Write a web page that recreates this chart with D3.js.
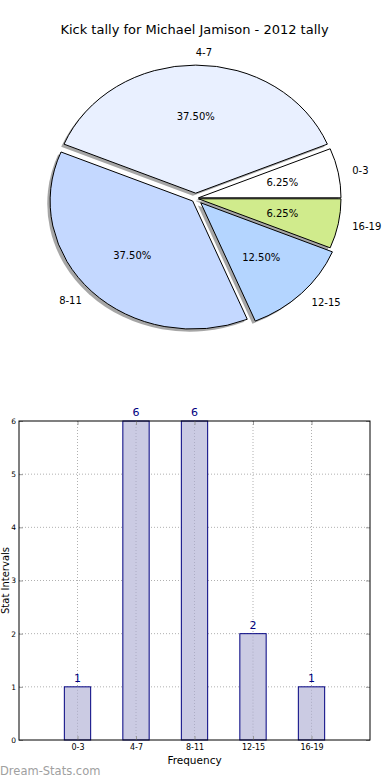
<!DOCTYPE html>
<html><head><meta charset="utf-8">
<script src="https://cdn.jsdelivr.net/npm/d3@7"></script>
<style>
html,body{margin:0;padding:0;background:#fff;}
svg{display:block;font-family:"DejaVu Sans",sans-serif;}
</style></head>
<body>
<svg id="chart" width="390" height="780"></svg>
<script>
// ---- data ----
const categories = ["0-3", "4-7", "8-11", "12-15", "16-19"];
const counts = [1, 6, 6, 2, 1];
const sliceColors = ["#ffffff", "#e9f0ff", "#c4d8ff", "#b4d5ff", "#d0eb8c"];
const explode = [0.02, 0.04, 0.03, 0.05, 0.02];
const yTicks = [0, 1, 2, 3, 4, 5, 6];
const titleText = "Kick tally for Michael Jamison - 2012 tally";

const svg = d3.select("#chart");

// ---- title ----
svg.append("text").attr("x", 194.5).attr("y", 34).attr("text-anchor", "middle")
  .attr("font-size", 13).attr("fill", "#000").text(titleText);

// ---- pie (elliptical, matplotlib-like) ----
const cx = 195.7, cy = 198.3, rx = 142.5, ry = 128;
const total = d3.sum(counts);
const pie = d3.pie().sort(null).startAngle(Math.PI / 2).endAngle(Math.PI / 2 - 2 * Math.PI);
const arcs = pie(counts);
const arc = d3.arc().innerRadius(0).outerRadius(1);
const pieG = svg.append("g");

arcs.forEach((d, i) => {
  const a = (d.startAngle + d.endAngle) / 2;
  d.mid = a;
  d.ox = cx + explode[i] * rx * Math.sin(a);
  d.oy = cy - explode[i] * ry * Math.cos(a);
});

// shadows
pieG.selectAll("path.shadow").data(arcs).join("path").attr("class", "shadow")
  .attr("d", arc)
  .attr("transform", d => `translate(${d.ox - 0.02 * rx},${d.oy + 0.02 * ry}) scale(${rx},${ry})`)
  .attr("fill", "#4d4d4d").attr("fill-opacity", 0.5).attr("stroke", "none");

// wedges
pieG.selectAll("path.wedge").data(arcs).join("path").attr("class", "wedge")
  .attr("d", arc)
  .attr("transform", d => `translate(${d.ox},${d.oy}) scale(${rx},${ry})`)
  .attr("fill", (d, i) => sliceColors[i])
  .attr("stroke", "#000").attr("stroke-width", 1).attr("stroke-linejoin", "miter")
  .attr("vector-effect", "non-scaling-stroke");

// category labels
pieG.selectAll("text.lab").data(arcs).join("text").attr("class", "lab")
  .attr("x", d => d.ox + 1.1 * rx * Math.sin(d.mid))
  .attr("y", d => d.oy - 1.1 * ry * Math.cos(d.mid))
  .attr("dominant-baseline", "central")
  .attr("text-anchor", d => Math.sin(d.mid) > -1e-6 ? "start" : "end")
  .attr("font-size", 10).attr("fill", "#000")
  .text((d, i) => categories[i]);

// percentage labels
const pctFmt = d3.format(".2f");
pieG.selectAll("text.pct").data(arcs).join("text").attr("class", "pct")
  .attr("x", d => d.ox + 0.6 * rx * Math.sin(d.mid))
  .attr("y", d => d.oy - 0.6 * ry * Math.cos(d.mid))
  .attr("dominant-baseline", "central").attr("text-anchor", "middle")
  .attr("font-size", 10).attr("fill", "#000")
  .text(d => pctFmt(d.value / total * 100) + "%");

// ---- bar chart ----
const L = 19, R = 370, T = 421, B = 740;
const x = d3.scaleLinear().domain([0, categories.length + 1]).range([L, R]);
const y = d3.scaleLinear().domain([0, 6]).range([B, T]);
const xTickVals = categories.map((c, i) => i + 1);
const barW = 0.45;

const bg = svg.append("g");

// grid
bg.append("g").selectAll("line").data(xTickVals).join("line")
  .attr("x1", d => x(d)).attr("x2", d => x(d)).attr("y1", T).attr("y2", B)
  .attr("stroke", "#b0b0b0").attr("stroke-dasharray", "1,2").attr("stroke-width", 1);
bg.append("g").selectAll("line").data(yTicks.slice(1, -1)).join("line")
  .attr("x1", L).attr("x2", R).attr("y1", d => y(d)).attr("y2", d => y(d))
  .attr("stroke", "#b0b0b0").attr("stroke-dasharray", "1,2").attr("stroke-width", 1);

// bars
bg.append("g").selectAll("rect").data(counts).join("rect")
  .attr("x", (d, i) => x(i + 1 - barW / 2))
  .attr("width", x(barW) - x(0))
  .attr("y", d => y(d)).attr("height", d => y(0) - y(d))
  .attr("fill", "#cbcbe3").attr("stroke", "#000080").attr("stroke-width", 1);

// grid over bars (matplotlib draws grid above)
bg.append("g").selectAll("line").data(xTickVals).join("line")
  .attr("x1", d => x(d)).attr("x2", d => x(d))
  .attr("y1", (d, i) => y(counts[i])).attr("y2", B)
  .attr("stroke", "#9a9ab0").attr("stroke-opacity", 0.6).attr("stroke-dasharray", "1,2");

// value labels
bg.append("g").selectAll("text").data(counts).join("text")
  .attr("x", (d, i) => x(i + 1)).attr("y", d => y(d) - 5)
  .attr("text-anchor", "middle").attr("font-size", 11).attr("fill", "#000080")
  .text(d => d);

// axes
const axL = bg.append("g").attr("transform", `translate(${L},0)`)
  .call(d3.axisLeft(y).tickValues(yTicks).tickFormat(d3.format("d")).tickSizeInner(-4).tickSizeOuter(0).tickPadding(3));
const axB = bg.append("g").attr("transform", `translate(0,${B})`)
  .call(d3.axisBottom(x).tickValues(xTickVals).tickFormat(d => categories[d - 1]).tickSizeInner(-4).tickSizeOuter(0).tickPadding(4));
const axT = bg.append("g").attr("transform", `translate(0,${T})`)
  .call(d3.axisTop(x).tickValues(xTickVals).tickFormat("").tickSizeInner(-4).tickSizeOuter(0));
const axR = bg.append("g").attr("transform", `translate(${R},0)`)
  .call(d3.axisRight(y).tickValues(yTicks).tickFormat("").tickSizeInner(-4).tickSizeOuter(0));
[axL, axB, axT, axR].forEach(g => {
  g.select(".domain").remove();
  g.selectAll(".tick line").attr("stroke", "#999");
  g.selectAll(".tick text").attr("font-size", 8).attr("fill", "#000").attr("font-family", "DejaVu Sans");
});
axL.selectAll(".tick text").attr("font-size", 7.5);

// frame
bg.append("rect").attr("x", L).attr("y", T).attr("width", R - L).attr("height", B - T)
  .attr("fill", "none").attr("stroke", "#000").attr("stroke-width", 1);

// axis titles
bg.append("text").attr("x", (L + R) / 2).attr("y", 764).attr("text-anchor", "middle")
  .attr("font-size", 10.5).attr("fill", "#000").text("Frequency");
bg.append("text").attr("transform", `translate(8.5,${(T + B) / 2}) rotate(-90)`)
  .attr("text-anchor", "middle").attr("font-size", 10).attr("fill", "#000").text("Stat Intervals");

// watermark
svg.append("text").attr("x", 0).attr("y", 775).attr("font-size", 11.5)
  .attr("fill", "#a0a0a0").text("Dream-Stats.com");
</script>
</body></html>
